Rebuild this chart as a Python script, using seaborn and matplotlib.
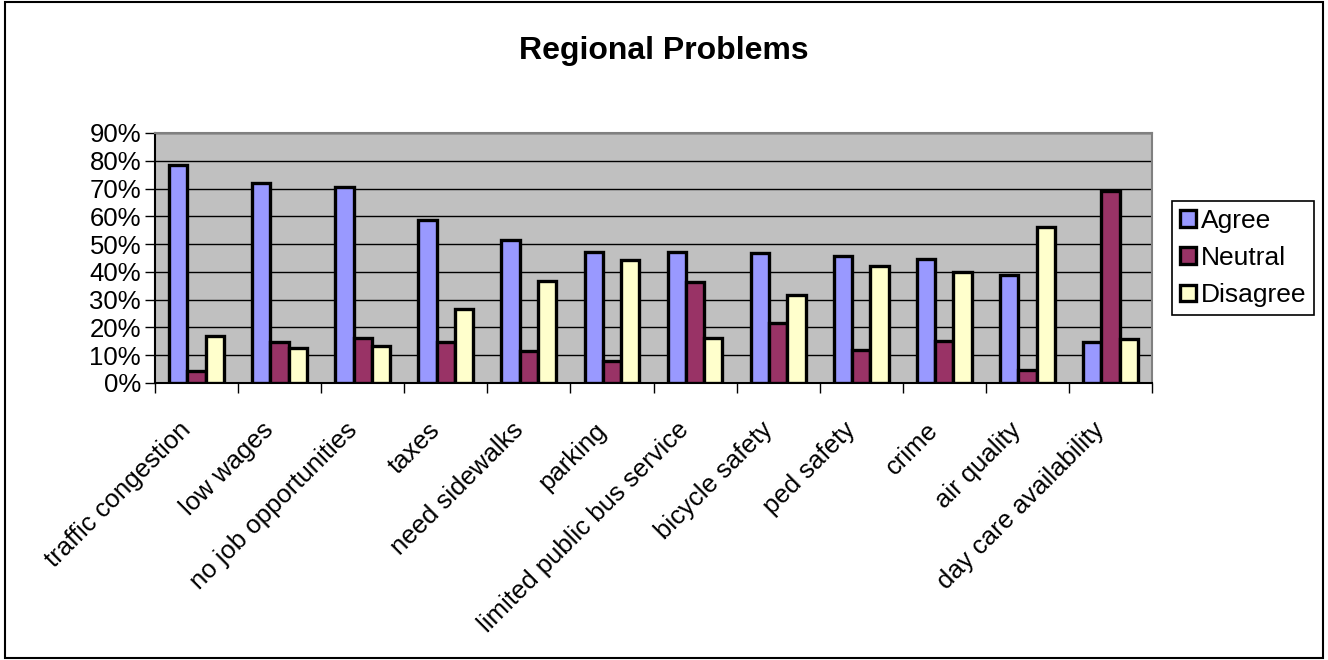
import numpy as np
import pandas as pd
import matplotlib
matplotlib.use("Agg")
import matplotlib.pyplot as plt
import matplotlib.transforms as mtransforms
import seaborn as sns
from matplotlib.patches import Rectangle
from matplotlib.ticker import FuncFormatter, MultipleLocator

# ── data ─────────────────────────────────────────────────────────────────────
categories = [
    "traffic congestion", "low wages", "no job opportunities", "taxes",
    "need sidewalks", "parking", "limited public bus service", "bicycle safety",
    "ped safety", "crime", "air quality", "day care availability",
]
agree = [78.4, 71.9, 70.6, 58.7, 51.4, 47.3, 47.2, 46.8, 45.7, 44.7, 38.9, 14.9]
neutral = [4.2, 14.9, 16.3, 14.8, 11.6, 8.0, 36.5, 21.5, 11.8, 15.1, 4.8, 69.1]
disagree = [17.0, 12.7, 13.2, 26.6, 36.7, 44.4, 16.3, 31.6, 42.1, 40.1, 56.1, 15.8]
series = ["Agree", "Neutral", "Disagree"]
colors = ["#9999FF", "#993366", "#FFFFCC"]

df = pd.DataFrame({"category": categories, "Agree": agree,
                   "Neutral": neutral, "Disagree": disagree})
long_df = df.melt(id_vars="category", var_name="response", value_name="pct")

sns.set_style("white")
plt.rcParams["font.family"] = ["Liberation Sans", "DejaVu Sans"]
plt.rcParams["text.color"] = "black"
plt.rcParams["xtick.color"] = "black"
plt.rcParams["ytick.color"] = "black"

FS = 18.5

fig = plt.figure(figsize=(13.28, 6.6), dpi=100)
ax = fig.add_axes([0.1167, 0.4197, 0.7508, 0.3788])
ax.set_facecolor("#C0C0C0")

sns.barplot(data=long_df, x="category", y="pct", hue="response",
            hue_order=series, palette=colors, width=0.66,
            edgecolor="black", linewidth=2.4, saturation=1, ax=ax,
            errorbar=None, zorder=3)

ax.set_ylim(0, 90)
ax.set_xlim(-0.5, len(categories) - 0.5)
ax.yaxis.set_major_locator(MultipleLocator(10))
ax.yaxis.set_major_formatter(FuncFormatter(lambda v, p: f"{v:.0f}%"))
ax.grid(axis="y", color="black", linewidth=1, zorder=0)
ax.set_axisbelow(True)
ax.set_xlabel("")
ax.set_ylabel("")

for side, sp in ax.spines.items():
    sp.set_visible(True)
    sp.set_color("#808080")
    sp.set_linewidth(1.5)
ax.spines["left"].set_color("black")
ax.spines["bottom"].set_color("black")

# tick marks between categories, labels at category centres
ax.set_xticks(np.arange(len(categories)))
ax.set_xticklabels(categories, rotation=45, ha="right", va="top",
                   rotation_mode="anchor", fontsize=FS)
ax.set_xticks(np.arange(-0.5, len(categories)), minor=True)
ax.tick_params(axis="x", which="major", length=0, pad=15)
ax.tick_params(axis="x", which="minor", length=7, width=1, color="black",
               direction="out", bottom=True)
ax.tick_params(axis="y", length=7, width=1, color="black", direction="out",
               left=True, labelsize=FS, pad=3)

# nudge rotated labels down-left like the original
shift = mtransforms.ScaledTranslation(-0.18, -0.14, fig.dpi_scale_trans)
for lbl in ax.get_xticklabels():
    lbl.set_transform(lbl.get_transform() + shift)

leg = ax.legend(loc="center left", bbox_to_anchor=(1.02, 0.5), fontsize=19,
                frameon=True, fancybox=False, edgecolor="black", framealpha=1,
                handlelength=0.6, handleheight=0.6, handletextpad=0.2,
                labelspacing=0.5, borderpad=0.3, borderaxespad=0)
leg.get_frame().set_linewidth(1.2)

fig.suptitle("Regional Problems", fontsize=23, fontweight="bold", y=0.945)

# outer chart border
fig.patches.append(Rectangle((0.004, 0.003), 0.992, 0.994, transform=fig.transFigure,
                             fill=False, edgecolor="black", linewidth=1.5))

fig.savefig("out.png", dpi=100, facecolor="white")
